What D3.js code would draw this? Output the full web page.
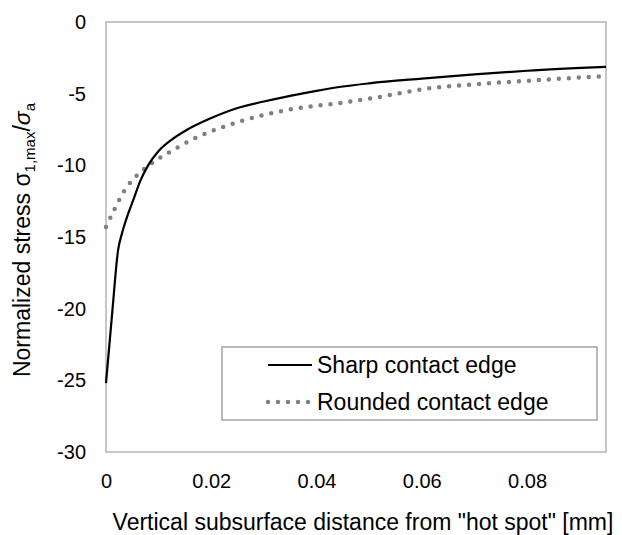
<!DOCTYPE html>
<html>
<head>
<meta charset="utf-8">
<script src="https://cdn.jsdelivr.net/npm/d3@7"></script>
<style>
    body { margin: 0; background: #fff; }
    svg { font-family: "Liberation Sans", Arial, sans-serif; }
</style>
</head>
<body>
<div id="chart"></div>
<script>
let sharpX = [0, 0.0012, 0.0023, 0.003, 0.004, 0.0052, 0.0065, 0.008, 0.01, 0.0125, 0.015, 0.02, 0.025, 0.03, 0.035, 0.04, 0.045, 0.05, 0.06, 0.07, 0.08, 0.095];
let sharpY = [-25.2, -20.2, -15.9, -14.8, -13.6, -12.4, -11.1, -10.0, -9.0, -8.2, -7.6, -6.7, -6.0, -5.55, -5.15, -4.8, -4.5, -4.28, -3.95, -3.65, -3.4, -3.13];

let roundX = [0, 0.0017, 0.0036, 0.0059, 0.0089, 0.0121, 0.0173, 0.0241, 0.0282, 0.035, 0.0444, 0.05, 0.062, 0.07, 0.08, 0.095];
let roundY = [-14.3, -13.0, -11.7, -10.7, -9.8, -9.07, -8.04, -7.1, -6.65, -6.1, -5.65, -5.35, -4.6, -4.35, -4.1, -3.77];

let xTicks = [0, 0.02, 0.04, 0.06, 0.08];
let yTicks = [0, -5, -10, -15, -20, -25, -30];
let seriesNames = ["Sharp contact edge", "Rounded contact edge"];

let width = 622;
let height = 535;
let margin = { top: 22, right: 16, bottom: 83, left: 106 };

let xScale = d3.scaleLinear()
    .domain([0, 0.095])
    .range([margin.left, width - margin.right]);

let yScale = d3.scaleLinear()
    .domain([-30, 0])
    .range([height - margin.bottom, margin.top]);

let svg = d3.select('#chart').append('svg')
    .attr('width', width)
    .attr('height', height);

// plot frame
svg.append('rect')
    .attr('x', xScale(0))
    .attr('y', yScale(0))
    .attr('width', xScale(0.095) - xScale(0))
    .attr('height', yScale(-30) - yScale(0))
    .attr('fill', 'none')
    .attr('stroke', '#b4b4b4')
    .attr('stroke-width', 1.5);

let xAxis = d3.axisBottom(xScale)
    .tickValues(xTicks)
    .tickSize(0)
    .tickPadding(22)
    .tickFormat(function (d) { return d === 0 ? '0' : d.toFixed(2); });

let xg = svg.append('g')
    .attr('transform', 'translate(0,' + yScale(-30) + ')')
    .call(xAxis);
xg.select('.domain').remove();
xg.selectAll('text')
    .attr('font-size', 20)
    .attr('fill', '#000')
    .attr('font-family', '"Liberation Sans", Arial, sans-serif');

let yAxis = d3.axisLeft(yScale)
    .tickValues(yTicks)
    .tickSize(0)
    .tickPadding(20)
    .tickFormat(function (d) { return String(d); });

let yg = svg.append('g')
    .attr('transform', 'translate(' + xScale(0) + ',0)')
    .call(yAxis);
yg.select('.domain').remove();
yg.selectAll('text')
    .attr('font-size', 20)
    .attr('fill', '#000')
    .attr('font-family', '"Liberation Sans", Arial, sans-serif');

let line = d3.line()
    .x(function (d) { return xScale(d[0]); })
    .y(function (d) { return yScale(d[1]); })
    .curve(d3.curveMonotoneX);

svg.append('path')
    .datum(roundX.map(function (x, i) { return [x, roundY[i]]; }))
    .attr('d', line)
    .attr('fill', 'none')
    .attr('stroke', '#808080')
    .attr('stroke-width', 4.5)
    .attr('stroke-linecap', 'round')
    .attr('stroke-dasharray', '0,10');

svg.append('path')
    .datum(sharpX.map(function (x, i) { return [x, sharpY[i]]; }))
    .attr('d', line)
    .attr('fill', 'none')
    .attr('stroke', '#000')
    .attr('stroke-width', 2.2);

// legend
let legend = svg.append('g');
legend.append('rect')
    .attr('x', 222)
    .attr('y', 347)
    .attr('width', 375)
    .attr('height', 73)
    .attr('fill', '#fff')
    .attr('stroke', '#8c8c8c')
    .attr('stroke-width', 1.2);

let legendStyles = [
    { stroke: '#000', width: 2.2, dash: null },
    { stroke: '#808080', width: 4.5, dash: '0,10' }
];

seriesNames.forEach(function (name, i) {
    let cy = 365 + i * 37;
    legend.append('line')
        .attr('x1', 268).attr('x2', i === 0 ? 312 : 309)
        .attr('y1', cy).attr('y2', cy)
        .attr('stroke', legendStyles[i].stroke)
        .attr('stroke-width', legendStyles[i].width)
        .attr('stroke-linecap', legendStyles[i].dash ? 'round' : 'butt')
        .attr('stroke-dasharray', legendStyles[i].dash);
    legend.append('text')
        .attr('x', 317)
        .attr('y', cy + 8)
        .attr('font-size', 23)
        .text(name);
});

// axis titles
svg.append('text')
    .attr('x', 363)
    .attr('y', 530)
    .attr('text-anchor', 'middle')
    .attr('font-size', 23)
    .text('Vertical subsurface distance from "hot spot" [mm]');

let yTitle = svg.append('text')
    .attr('transform', 'translate(30,240) rotate(-90)')
    .attr('text-anchor', 'middle')
    .attr('font-size', 23);
yTitle.append('tspan').text('Normalized stress σ');
yTitle.append('tspan').attr('font-size', 15).attr('dy', 5).text('1,max');
yTitle.append('tspan').attr('dy', -5).text('/');
yTitle.append('tspan').attr('font-style', 'italic').text('σ');
yTitle.append('tspan').attr('font-size', 15).attr('dy', 5).text('a');
</script>
</body>
</html>
